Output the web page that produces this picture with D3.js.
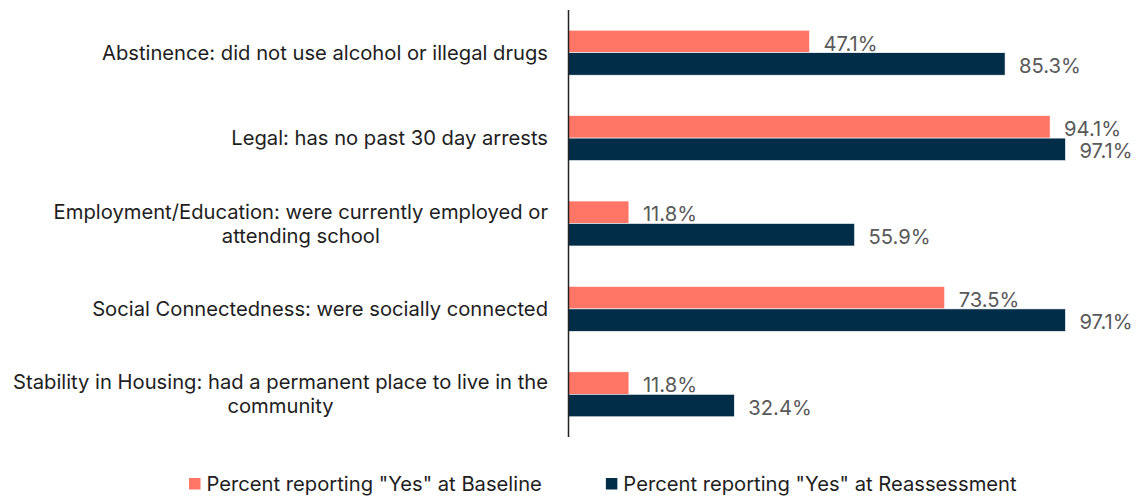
<!DOCTYPE html>
<html>
<head>
<meta charset="utf-8">
<script src="https://cdn.jsdelivr.net/npm/d3@7"></script>
<style>
  body { margin: 0; background: #fff; }
  svg { display: block; font-family: Inter, "Open Sans", sans-serif; }
</style>
</head>
<body>
<svg id="chart" width="1136" height="496"></svg>
<script>
// data
var categories = [
    ["Abstinence: did not use alcohol or illegal drugs"],
    ["Legal: has no past 30 day arrests"],
    ["Employment/Education: were currently employed or", "attending school"],
    ["Social Connectedness: were socially connected"],
    ["Stability in Housing: had a permanent place to live in the", "community"]
];
var seriesNames = ['Percent reporting "Yes" at Baseline', 'Percent reporting "Yes" at Reassessment'];
var baseline = [47.1, 94.1, 11.8, 73.5, 11.8];
var reassessment = [85.3, 97.1, 55.9, 97.1, 32.4];
var colors = ["#ff7566", "#022d49"];

var svg = d3.select("#chart");
var axisX = 568.5, plotTop = 10, plotBottom = 437;
var fontSize = 20.2;

var rows = categories.map(function(c, i) {
    return { key: i, lines: c, values: [baseline[i], reassessment[i]] };
});

var x = d3.scaleLinear().domain([0, 100]).range([axisX, axisX + 511.8]);
var y0 = d3.scaleBand().domain(rows.map(d => d.key)).range([plotTop, plotBottom]);
var y1 = d3.scaleBand().domain([0, 1]).range([0, y0.bandwidth()]).paddingInner(0).paddingOuter(0.9);

var groups = svg.selectAll("g.cat")
    .data(rows)
    .enter().append("g")
    .attr("class", "cat")
    .attr("transform", d => "translate(0," + y0(d.key) + ")");

groups.selectAll("rect")
    .data(d => d.values.map((v, s) => ({ v: v, s: s })))
    .enter().append("rect")
    .attr("x", x(0))
    .attr("y", d => y1(d.s))
    .attr("width", d => x(d.v) - x(0))
    .attr("height", y1.bandwidth())
    .attr("fill", d => colors[d.s])
    .attr("stroke", "#ffffff")
    .attr("stroke-width", 0.6);

groups.selectAll("text.val")
    .data(d => d.values.map((v, s) => ({ v: v, s: s })))
    .enter().append("text")
    .attr("class", "val")
    .attr("x", d => x(d.v) + 14)
    .attr("y", d => y1(d.s) + y1.bandwidth() / 2 + 2)
    .attr("dy", "0.35em")
    .style("font-size", fontSize + "px")
    .attr("fill", "#595959")
    .text(d => d.v.toFixed(1) + "%");

// category labels: block right aligned to the axis, lines centred in it
var lineH = 24;
groups.each(function(d) {
    var g = d3.select(this);
    var t = g.append("text")
        .style("font-size", fontSize + "px")
        .attr("fill", "#1e1e1e")
        .attr("text-anchor", "middle");
    var n = d.lines.length;
    d.lines.forEach(function(line, i) {
        t.append("tspan")
            .attr("y", y0.bandwidth() / 2 + (i - (n - 1) / 2) * lineH)
            .attr("dy", "0.35em")
            .text(line);
    });
    var w = 0;
    t.selectAll("tspan").each(function() { w = Math.max(w, this.getComputedTextLength()); });
    t.selectAll("tspan").attr("x", 548 - w / 2);
});

// axis line
svg.append("line")
    .attr("x1", axisX).attr("x2", axisX)
    .attr("y1", plotTop).attr("y2", plotBottom)
    .attr("stroke", "#222")
    .attr("stroke-width", 1.5);

// legend
var legend = svg.append("g").attr("class", "legend");
var lx = 189;
seriesNames.forEach(function(name, i) {
    var item = legend.append("g").attr("transform", "translate(" + lx + ",0)");
    item.append("rect")
        .attr("x", 0).attr("y", 478)
        .attr("width", 11.5).attr("height", 11.5)
        .attr("fill", colors[i]);
    var txt = item.append("text")
        .attr("x", 17.5).attr("y", 484)
        .attr("dy", "0.35em")
        .style("font-size", fontSize + "px")
        .attr("fill", "#1e1e1e")
        .text(name);
    lx += 17.5 + txt.node().getComputedTextLength() + 64;
});
</script>
</body>
</html>
